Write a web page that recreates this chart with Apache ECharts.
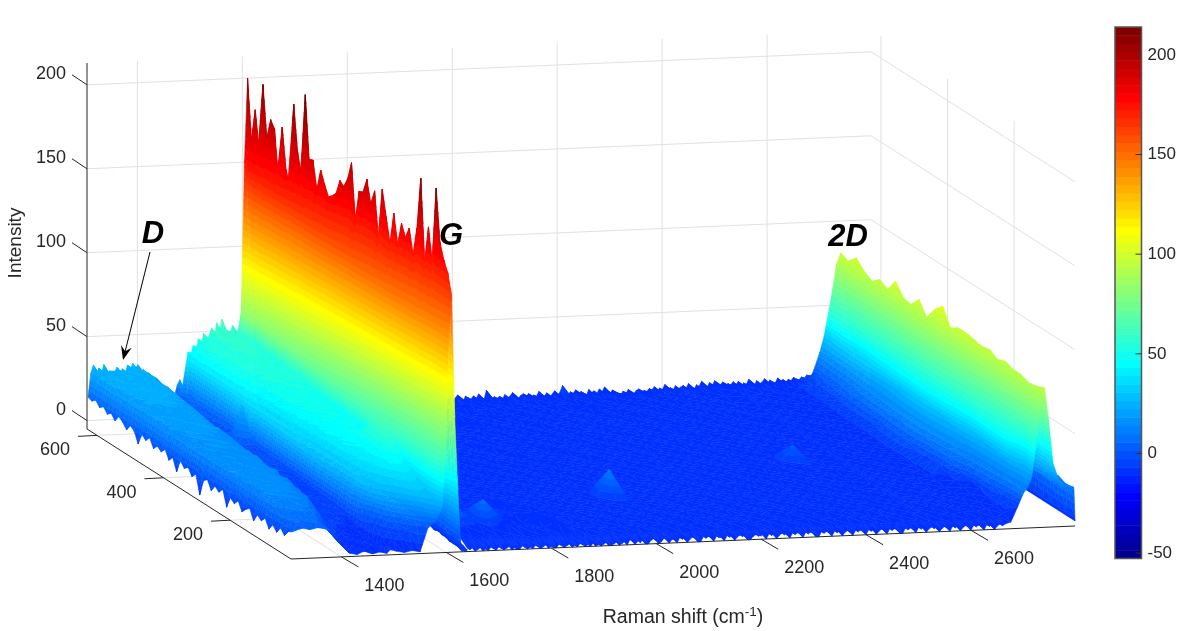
<!DOCTYPE html>
<html><head><meta charset="utf-8">
<style>html,body{margin:0;padding:0;background:#fff}#c{width:1186px;height:631px}</style>
<script src="https://cdn.jsdelivr.net/npm/echarts@6/dist/echarts.min.js"></script>
</head><body><div id="c"></div>
<script>
// ---------- axis ranges and tick labels ----------
const shiftRange = [1304, 2798];
const positionRange = [17, 630];
const intensityRange = [-5, 213];
const colorRange = [-52.7, 214];
const shiftTicks = [1400, 1600, 1800, 2000, 2200, 2400, 2600];
const positionTicks = [200, 400, 600];
const intensityTicks = [0, 50, 100, 150, 200];
const colorTicks = [-50, 0, 50, 100, 150, 200];

// ---------- spectra: near block (D and G bands), rows run from position 630 to 17 ----------
const nearShifts = [1306,1314,1326,1340,1355,1370,1385,1400,1415,1430,1445,1460,1475,1487,1493,1505,1520,1535,1550,1565,1580,1592,1598,1604,1610,1616,1622,1628,1634,1640];
const nearSpectra = [
[14,30,31,33,29,32,30,32,28,24,19,16,13,15,33,38,46,50,55,52,48,50,62,150,200,100,45,8,4,4],
[13,27,30,28,31,27,31,29,27,22,17,15,12,14,36,41,44,47,50,49,51,48,60,146,165,92,40,7,3,4],
[15,31,28,30,27,30,28,31,26,21,16,14,13,13,35,44,48,45,52,47,46,49,61,148,184,98,42,8,4,3],
[12,26,29,31,30,26,29,27,28,23,17,13,11,15,38,40,43,49,47,51,49,47,59,145,162,90,38,6,4,3],
[14,29,27,29,32,28,31,30,25,20,15,12,12,14,37,45,47,44,53,46,50,51,62,149,202,104,44,7,3,4],
[11,28,30,27,28,31,27,29,26,22,16,13,10,13,34,42,45,48,49,52,47,48,60,144,172,93,41,8,3,3],
[13,27,29,30,28,29,30,28,27,21,15,12,11,12,36,43,46,50,48,50,46,49,61,146,184,96,40,7,4,3],
[10,25,28,26,29,31,28,30,25,20,16,14,12,14,35,40,47,46,51,47,49,46,59,147,180,95,42,6,3,4],
[14,28,30,29,26,28,31,27,26,19,14,13,10,11,37,44,43,48,46,50,45,47,58,143,153,88,37,7,3,3],
[12,24,27,30,29,27,29,28,24,21,15,11,11,13,33,41,46,44,50,46,48,50,60,145,184,97,41,6,4,2],
[9,26,29,27,28,30,26,29,25,18,14,12,9,12,36,42,44,49,47,48,47,45,57,142,160,88,39,6,3,3],
[13,27,26,28,30,27,28,26,24,20,15,11,10,11,34,39,45,46,49,44,46,48,58,143,152,86,36,5,3,3],
[11,25,28,29,26,29,27,28,23,19,13,12,10,12,35,43,43,47,45,49,44,47,59,146,202,104,43,6,2,3],
[5,23,27,26,29,26,28,25,24,18,14,10,9,11,32,40,46,44,48,45,47,44,57,142,175,94,40,5,3,2],
[12,26,24,28,27,28,26,27,22,17,13,11,11,10,33,38,42,46,44,47,43,46,56,141,163,90,38,5,2,3],
[10,24,27,25,27,25,27,26,23,18,12,10,13,12,34,41,44,43,47,45,46,45,58,145,212,108,44,6,3,2],
[13,25,26,28,25,27,25,26,21,16,13,12,20,14,31,39,45,47,43,46,44,47,56,140,175,93,38,5,2,2],
[8,22,25,26,27,24,26,24,22,17,11,14,31,22,33,37,42,44,46,43,47,44,55,139,176,95,39,4,3,2],
[11,24,27,24,25,26,24,25,20,15,12,11,17,13,30,40,43,42,45,44,42,45,55,138,160,88,37,5,2,2],
[9,23,24,26,23,25,26,23,21,16,11,9,10,11,32,38,41,45,43,46,44,42,54,138,173,92,38,4,2,2],
[12,25,26,23,26,24,25,24,19,14,12,10,9,10,29,36,43,42,44,42,45,43,54,137,166,90,37,4,2,1],
[7,22,24,25,24,26,23,25,20,15,10,9,11,9,31,37,40,44,42,45,41,44,53,137,160,88,36,4,1,2],
[10,24,23,25,27,23,25,22,21,14,11,10,8,10,28,38,42,41,45,43,43,41,52,136,162,90,36,3,2,1],
[3,21,25,24,22,25,24,23,19,13,10,8,9,9,30,35,41,43,41,44,42,43,52,136,165,90,37,3,2,1],
[11,23,22,26,24,24,22,24,18,15,11,9,8,8,27,37,39,42,43,41,44,40,51,135,174,93,37,3,1,2],
[8,24,25,23,25,22,24,21,20,13,10,8,7,9,29,34,40,41,42,43,40,42,51,135,172,92,36,3,1,1],
[10,22,24,23,23,25,22,23,17,14,9,9,8,8,26,36,38,43,40,42,43,41,50,134,178,94,37,2,2,1],
[6,21,23,25,22,24,24,21,19,12,10,7,9,7,28,33,41,39,42,41,39,43,50,135,189,100,40,3,1,1],
[9,24,22,24,25,21,23,22,16,13,9,8,6,8,25,35,37,41,40,43,41,39,49,132,157,86,34,2,1,0],
[-2,20,25,22,23,24,21,23,18,12,8,9,7,7,27,32,39,40,42,39,41,40,49,133,175,93,36,2,1,1],
[8,22,23,24,21,23,24,20,17,13,9,7,8,7,24,34,36,42,39,41,38,42,48,132,176,94,36,2,0,1],
[10,21,24,22,24,22,22,23,15,11,10,8,6,6,26,31,38,39,41,40,42,38,48,132,185,97,38,2,1,0],
[5,23,21,25,22,23,21,22,17,12,8,7,7,7,23,33,37,40,38,42,40,41,47,131,172,92,35,1,1,1],
[9,20,23,23,24,21,23,20,16,10,9,8,5,6,25,30,39,38,41,39,41,39,47,131,181,96,37,2,0,0],
[7,22,22,21,23,24,20,21,14,11,7,6,7,5,22,32,35,41,39,40,38,42,46,130,155,84,33,1,0,1],
[10,21,24,23,21,22,23,19,16,10,8,7,5,6,24,29,37,37,42,38,41,40,46,130,185,97,37,1,1,0],
[1,19,22,24,22,21,21,22,15,9,7,6,6,5,21,31,36,39,38,44,40,38,46,130,170,91,35,1,0,0],
[8,21,23,21,24,23,20,20,13,10,8,5,4,5,23,28,38,36,41,47,39,41,46,129,156,85,33,1,0,0],
[6,20,21,23,21,22,22,19,15,9,6,6,5,4,20,30,34,38,37,50,43,39,45,129,175,93,36,0,1,0],
[9,22,22,22,23,20,21,21,12,8,7,4,4,5,22,27,36,35,40,54,45,40,45,129,158,86,33,0,0,0],
[4,19,24,20,21,23,19,20,14,9,5,5,3,4,19,29,33,37,38,58,48,38,45,129,172,92,35,0,0,-1],
[7,21,20,23,22,21,22,18,12,7,6,4,4,3,21,26,35,34,41,62,50,39,45,128,165,89,34,0,-1,0],
[9,20,22,21,20,22,20,19,13,8,5,3,2,3,18,28,32,36,40,66,46,37,44,128,172,92,35,-1,0,-1],
[3,18,21,22,23,19,21,17,11,6,4,4,3,2,20,25,33,33,38,55,42,36,44,128,158,85,33,0,-1,-1],
[8,20,23,20,21,22,18,18,10,7,5,2,1,2,17,26,30,35,37,42,39,34,44,128,175,92,35,-1,-1,0],
[6,19,20,22,19,20,20,16,9,5,3,3,2,1,18,23,29,31,38,40,36,33,44,129,206,106,40,-1,0,-1],
[9,18,19,21,22,18,19,14,8,4,2,1,1,0,14,21,26,30,33,37,35,31,44,127,158,85,33,-2,-1,-1],
[4,17,20,18,20,21,16,12,6,3,1,2,0,1,12,18,24,27,31,34,32,29,44,128,180,95,36,-1,-2,-1],
[8,16,17,20,18,17,15,9,4,2,0,-1,0,-1,9,15,20,24,27,31,30,27,45,128,160,86,33,-2,-2,-2],
[5,15,18,16,19,16,13,7,2,1,-1,0,-2,-1,7,12,17,21,24,28,28,26,45,130,206,105,40,-2,-2,-1],
[9,14,15,17,15,16,11,5,1,0,-2,-1,-1,-3,4,9,14,17,21,24,26,25,46,128,175,90,35,-3,-2,-3],
[6,13,15,14,16,14,10,4,-1,-2,-1,-3,-2,-3,1,6,10,13,17,20,24,24,47,127,166,85,34,-3,-3,-2],
[10,12,14,13,14,13,10,3,-2,-3,-3,-2,-4,-3,-1,2,5,8,12,16,22,23,47,126,160,80,33,-3,-4,-3],
[11,12,13,12,13,12,10,2,-3,-4,-2,-4,-3,-4,-2,-3,-4,-3,-4,10,14,22,48,125,148,75,32,-4,-6,-4]
];
// back edge of the near block read at 5 cm-1 steps from 1306
const nearBackEdgeStart = 1306;
const nearBackEdge = [14,28,33,26,31,27,33,26,29,25,28,31,26,30,27,32,29,33,30,32,27,29,26,27,24,24,22,20,19,16,17,14,15,13,19,22,18,28,38,36,42,38,46,41,49,43,47,52,45,55,48,57,46,50,47,53,48];

// ---------- spectra: far block (plateau and 2D band), rows run from position 630 to 17 ----------
const farShifts = [1640,1665,1690,1715,1740,1765,1790,1815,1840,1865,1890,1915,1940,1965,1990,2015,2040,2065,2090,2115,2140,2165,2190,2215,2240,2265,2290,2315,2340,2365,2390,2415,2440,2465,2490,2515,2540,2565,2590,2615,2640,2660,2676,2689,2700,2708,2716,2724,2732,2740,2748,2756,2766,2778,2796,2798];
const farSpectra = [
[3,4,2,4,3,5,3,4,2,3,4,3,5,3,4,3,4,5,3,4,4,3,5,4,3,5,4,4,6,4,5,4,5,6,5,8,6,5,6,5,7,8,9,12,22,31,44,58,74,81,60,34,22,18,17,-2],
[3,3,4,2,4,3,4,2,4,3,3,4,3,5,3,4,4,3,4,3,5,4,3,4,5,3,4,5,4,5,4,5,4,5,6,7,5,6,5,6,6,8,10,13,22,32,44,58,73,79,58,33,22,18,17,-2],
[2,4,3,3,2,4,3,3,3,4,3,2,4,3,5,3,3,4,3,4,3,4,4,3,4,4,3,4,5,4,5,4,5,4,5,8,5,5,6,5,7,9,11,14,24,33,45,59,74,84,62,34,22,19,17,-2],
[3,2,3,4,3,3,2,4,2,3,4,3,3,4,3,4,2,3,4,3,4,3,3,5,3,4,4,3,4,5,4,4,5,5,4,7,5,4,5,6,6,9,11,15,24,33,46,59,73,79,57,33,21,18,16,-2],
[2,3,2,3,2,3,4,2,3,2,3,3,4,2,3,3,4,3,3,4,3,3,4,3,4,3,5,4,3,4,4,5,4,4,5,7,4,5,5,5,6,9,12,16,25,34,46,59,72,76,55,32,22,18,17,-2],
[1,2,3,2,3,2,3,2,2,3,2,3,2,4,2,3,3,2,4,3,3,4,3,3,3,4,3,4,4,3,5,4,4,5,4,6,5,4,5,4,6,9,13,17,26,34,46,60,73,80,58,33,21,18,17,-2],
[2,1,2,3,2,2,3,2,3,2,3,2,2,3,3,2,3,3,2,3,4,3,3,4,3,3,4,3,4,4,3,4,4,3,5,6,4,4,4,5,6,10,14,19,27,35,47,60,72,77,56,32,21,18,16,-2],
[1,2,1,2,3,2,2,1,2,3,2,2,3,2,2,3,2,2,3,2,3,3,2,3,3,2,4,3,3,3,4,3,4,4,3,6,4,4,3,4,5,10,14,20,28,36,47,60,72,85,62,34,22,18,17,-2],
[2,1,2,1,2,2,1,3,2,1,2,3,2,2,3,2,2,3,2,3,2,3,3,2,3,3,3,2,4,3,3,4,3,3,4,5,4,3,4,4,5,10,15,21,28,36,47,60,72,78,57,33,21,18,16,-2],
[1,2,1,1,2,1,2,2,1,2,2,1,3,2,2,2,3,2,2,2,3,2,3,2,3,2,3,3,3,2,4,3,3,4,3,5,3,4,3,4,5,10,15,22,29,37,48,61,73,77,56,32,21,17,17,-2],
[2,3,1,2,1,2,1,2,2,1,2,2,1,3,2,2,1,3,2,2,2,3,2,3,2,3,3,2,3,3,3,3,4,3,3,5,3,3,4,3,5,10,16,23,30,38,49,62,74,83,60,33,22,18,16,-2],
[3,2,2,1,2,1,2,1,1,2,1,2,2,1,2,2,2,1,3,2,2,2,3,2,2,3,2,3,2,3,3,3,3,3,4,5,3,3,3,4,5,11,17,24,31,38,49,62,73,75,54,32,21,18,16,-2],
[2,4,2,2,1,2,2,1,2,1,2,1,2,2,1,2,2,2,1,3,2,2,2,2,3,2,3,2,3,2,3,3,2,4,3,4,3,4,3,3,4,11,17,25,32,39,50,62,74,83,60,34,22,17,16,-2],
[3,3,5,2,2,1,1,2,1,2,1,2,1,2,2,1,2,2,2,2,1,2,3,2,2,2,2,3,2,3,2,3,5,3,3,5,3,3,3,3,4,11,18,25,32,39,50,63,75,88,64,35,22,18,16,-2],
[2,5,3,3,2,2,1,1,2,1,2,1,2,1,1,2,2,1,2,2,2,1,2,2,2,2,3,2,2,2,3,2,12,3,2,5,2,3,3,3,4,11,18,25,32,39,50,62,74,78,57,33,21,18,16,-2],
[4,6,3,2,2,1,2,1,1,1,1,2,1,1,2,1,1,2,1,2,2,2,1,2,2,1,2,2,2,2,3,2,3,2,2,4,2,3,2,3,4,10,17,24,31,38,49,62,73,81,58,33,21,17,16,-2],
[5,8,4,3,2,1,1,2,1,1,2,1,1,2,1,2,1,1,2,1,1,2,1,2,1,2,2,1,2,2,2,3,2,2,3,4,2,2,3,2,3,10,16,23,30,37,48,61,73,81,58,33,21,18,16,-2],
[6,5,3,10,3,2,1,1,2,1,1,1,2,1,1,1,2,1,1,2,1,1,2,1,2,1,1,2,1,2,2,2,2,3,2,4,2,2,2,3,3,9,15,21,28,35,47,60,72,80,58,33,21,17,16,-2],
[7,6,9,4,3,2,2,1,1,2,1,1,1,1,2,4,1,1,2,1,1,1,1,2,1,1,2,1,2,1,2,2,2,2,2,4,2,2,2,2,3,9,14,19,26,33,45,59,71,79,57,33,21,18,15,-2],
[6,4,5,3,2,3,1,2,1,1,1,2,1,1,1,18,1,1,1,1,1,1,2,1,1,1,1,2,1,1,2,1,2,2,1,3,2,2,2,2,3,7,12,17,24,31,44,58,71,80,58,33,21,17,15,-2],
[8,5,7,4,3,2,6,1,2,1,1,1,1,2,1,1,1,1,1,0,1,1,1,1,1,2,1,1,1,1,1,2,1,1,2,3,1,2,2,1,2,6,10,15,22,29,42,57,71,77,55,32,20,17,15,-2],
[5,7,4,5,2,3,2,1,1,2,0,1,1,1,0,1,1,0,1,1,0,1,1,1,0,1,1,1,1,0,1,1,1,2,1,3,1,1,2,1,2,5,8,13,21,28,41,56,70,79,57,32,20,17,15,-2],
[6,4,6,3,9,2,3,1,2,1,1,0,1,0,1,1,0,1,0,1,1,0,1,0,1,0,1,0,1,1,0,1,1,1,1,2,1,1,1,1,2,4,7,12,20,27,40,56,71,77,55,32,20,17,16,-2],
[4,12,3,16,2,4,1,7,1,1,0,1,0,1,0,0,1,0,1,0,0,1,0,0,1,0,1,0,0,1,1,0,1,0,1,2,0,1,1,0,1,2,5,11,19,26,40,56,71,77,55,32,20,18,17,-2],
[3,4,5,2,6,3,2,1,5,1,0,0,-1,0,0,-1,0,0,-1,0,-1,0,0,-1,0,0,-1,0,0,-1,0,0,-1,0,0,1,0,0,-1,0,0,1,3,10,18,24,34,52,72,75,54,32,20,18,19,-2],
[1,0,2,0,1,-1,0,1,-1,0,-2,-1,-2,-1,-2,-1,-2,-2,-1,-2,-1,-2,-2,-1,-2,-2,-1,-2,-1,-2,-2,-1,-2,-2,-1,-1,-2,-2,-1,-2,-2,-1,1,9,17,21,30,50,72,76,56,33,22,18,17,-2],
[-4,-3,-4,-5,-3,-4,-6,-4,-3,-5,-4,-6,-4,-3,-5,-6,-4,-5,-6,-3,-5,-4,-6,-5,-3,-6,-4,-5,-4,-6,-5,-3,-6,-4,-5,-3,-6,-4,-5,-4,-3,-3,-1,8,16,19,26,45,70,78,58,33,24,19,18,-2]
];
// back and front edges of the far block read at 5 cm-1 steps
const farBackEdgeStart = 1990;
const farBackEdge = [3,5,2,4,6,3,2,5,4,3,5,3,6,4,2,8,5,3,4,3,4,2,5,3,4,6,3,2,4,5,3,5,2,4,3,6,4,3,5,2,4,6,3,5,9,4,3,5,4,6,3,5,4,2,6,4,5,3,6,4,7,4,3,5,2,3,1,4,2,5,3,2,4,5,2,4,3,5,4,6,3,5,4,7,4,5,3,6,4,5,6,4,7,5,3,6,5,8,5,4,7,5,8,6,5,7,4,6,5,7,5,7,4,6,5,8,6,4,7,5,6,8,5,7,6,5,8,6,7,5,7,6,8,7,6,8,7,9,8,9];
const farFrontEdgeStart = 1640;
const farFrontEdge = [-3,-4,-3,-5,-4,-3,-5,-4,-5,-3,-4,-5,-3,-4,-5,-4,-3,-5,-4,-5,-5,-3,-4,-5,-4,-5,-3,-4,-5,-4,-3,-5,-4,-5,-5,-3,-4,-5,-4,-3,-5,-4,-5,-3,-4,-5,-4,-5,-3,-5,-4,-5,-4,-3,-5,-5,-4,-3,-5,-4,-3,-5,-2,-3,-5,-3,-4,-2,-5,-5,-3,-2,-3,-5,-4,-2,-3,-5,-3,-3,-5,-2,-3,-2,-5,-3,-2,-3,-5,-5,-2,-3,-2,-3,-5,-2,-3,-3,-5,-2,-3,-2,-5,-3,-2,-3,-2,-5,-5,-3,-2,-3,-3,-2,-5,-2,-3,-2,-5,-3,-2,-3,-2,-5,-2,-3,-2,-3,-5,-2,-3,-2,-3,-5,-5,-2,-3,-2,-3,-5,-2,-3,-2,-5,-3,-2,-3,-5,-2,-3,-2,-3,-5,-2,-3,-2,-5,-3,-2,-3,-5,-2,-3,-2,-3,-5,-5,-2,-3,-2,-3,-5,-2,-3,-2,-5,-3,-2,-3,-2,-5,-3,-2,-3,-5,-2,-3,-2,-5,-3,-2,-3,-5,-2,-3,-2,-3,-5,-2,-3,-2,-5,-3,-2,-3,-2];

// colour tone of the sheet against its height
const dHeights = [-5,6,12,30,52,215];
const dTones = [-11,-5,3,25,45,215];
const shoulderHeights = [-5,6,12,25,45,215];
const shoulderTones = [-11,-5,3,28,52,215];
const ridgeFarHeights = [-5,8,12,37,85,156,215];
const ridgeFarTones = [-9,-7,3,49,119,181,215];
const ridgeFrontHeights = [-5,8,12,38,101,150,215];
const ridgeFrontTones = [-9,-7,3,49,119,165,215];
const plateauHeights = [-5,8,12,30,41,80,215];
const plateauTones = [-9,-7,3,27,49,97,215];

// ---------- 3-D view: how the axis box sits on the page ----------
const box = {ox:291, oy:559, xv:[784,-33], yv:[-204,-130], zh:366};
function project(X, Y, Z){
  const t=(X-shiftRange[0])/(shiftRange[1]-shiftRange[0]);
  const u=(Y-positionRange[0])/(positionRange[1]-positionRange[0]);
  const v=(Z-intensityRange[0])/(intensityRange[1]-intensityRange[0]);
  return [box.ox+box.xv[0]*t+box.yv[0]*u, box.oy+box.xv[1]*t+box.yv[1]*u-box.zh*v];
}

// ---------- colour map: 64 steps of jet ----------
const LEVELS=64;
function jet(i){
  const x=(i+1)/LEVELS, c=v=>Math.round(255*Math.max(0,Math.min(1,v)));
  return 'rgb('+c(Math.min(4*x-1.5,-4*x+4.5))+','+c(Math.min(4*x-0.5,-4*x+3.5))+','+c(Math.min(4*x+0.5,-4*x+2.5))+')';
}
const stepW=(colorRange[1]-colorRange[0])/LEVELS;
const levelOf=c=>Math.max(0,Math.min(LEVELS-1,Math.floor((c-colorRange[0])/stepW)));
function lerpTable(xs,ys,x){
  for(let i=0;i<xs.length-1;i++) if(x<=xs[i+1]||i===xs.length-2){const k=(x-xs[i])/(xs[i+1]-xs[i]);return ys[i]+(ys[i+1]-ys[i])*k;}
}
function tone(X,Y,z){
  if(X<1480) return lerpTable(dHeights,dTones,z);
  if(X<1595) return lerpTable(shoulderHeights,shoulderTones,z);
  if(X>1650) return lerpTable(plateauHeights,plateauTones,z);
  const u=(Y-positionRange[0])/(positionRange[1]-positionRange[0]);
  return u*lerpTable(ridgeFarHeights,ridgeFarTones,z)+(1-u)*lerpTable(ridgeFrontHeights,ridgeFrontTones,z);
}

// ---------- cut triangles of the surface into colour bands, far ones first ----------
function clipPoly(poly, idx, lim, above){
  const out=[];
  for(let i=0;i<poly.length;i++){
    const a=poly[i], b=poly[(i+1)%poly.length];
    const ia=above? a[idx]>=lim : a[idx]<=lim, ib=above? b[idx]>=lim : b[idx]<=lim;
    if(ia) out.push(a);
    if(ia!==ib){ const k=(lim-a[idx])/(b[idx]-a[idx]); out.push(a.map((v,n)=>v+(b[n]-v)*k)); }
  }
  return out;
}
const faces=[];
function addTriangle(tri0){
  let tri=clipPoly(tri0.map(p=>[p[0],p[1],p[2],tone(p[0],p[1],p[2])]),2,intensityRange[0],true);
  if(tri.length<3) return;
  const cs=tri.map(p=>p[3]), lo=Math.min(...cs), hi=Math.max(...cs);
  for(let l=levelOf(lo);l<=levelOf(hi);l++){
    let p=clipPoly(tri,3,colorRange[0]+l*stepW,true);
    if(p.length>2) p=clipPoly(p,3,colorRange[0]+(l+1)*stepW,false);
    if(p.length>2) faces.push({pts:p.map(q=>project(q[0],q[1],q[2])),color:jet(l)});
  }
}
function sampleAt(xs,zs,X){ return lerpTable(xs,zs,X); }
function mergeEdge(shifts,row,start,edge){
  const fx=edge.map((_,k)=>start+5*k), lo=fx[0], hi=fx[fx.length-1];
  const X=[],Z=[];
  shifts.forEach((s,i)=>{if(s<lo){X.push(s);Z.push(row[i]);}});
  fx.forEach((s,i)=>{X.push(s);Z.push(edge[i]);});
  shifts.forEach((s,i)=>{if(s>hi){X.push(s);Z.push(row[i]);}});
  return [X,Z];
}
function addSurface(shifts, rows, back, front){
  const n=rows.length, yAt=j=>positionRange[1]-(positionRange[1]-positionRange[0])*j/(n-1);
  for(let j=0;j<n-1;j++){
    let xs=shifts, zf=rows[j], zn=rows[j+1];
    if(j===0&&back){ const m=mergeEdge(shifts,rows[0],back[0],back[1]); xs=m[0]; zf=m[1]; zn=xs.map(X=>sampleAt(shifts,rows[1],X)); }
    if(j===n-2&&front){ const m=mergeEdge(shifts,rows[n-1],front[0],front[1]); xs=m[0]; zn=m[1]; zf=xs.map(X=>sampleAt(shifts,rows[n-2],X)); }
    for(let i=xs.length-2;i>=0;i--){
      const A=[xs[i+1],yAt(j),zf[i+1]], B=[xs[i],yAt(j),zf[i]],
            C=[xs[i+1],yAt(j+1),zn[i+1]], D=[xs[i],yAt(j+1),zn[i]];
      addTriangle([A,B,C]); addTriangle([D,B,C]);
    }
  }
}
addSurface(farShifts,farSpectra,[farBackEdgeStart,farBackEdge],[farFrontEdgeStart,farFrontEdge]);
addSurface(nearShifts,nearSpectra,[nearBackEdgeStart,nearBackEdge],null);

// ---------- box lines ----------
const [xa,xb]=shiftRange,[ya,yb]=positionRange,[za,zb]=intensityRange;
const gridLines=[];
shiftTicks.forEach(X=>{gridLines.push([project(X,ya,za),project(X,yb,za),project(X,yb,zb)]);});
positionTicks.forEach(Y=>{gridLines.push([project(xa,Y,za),project(xb,Y,za),project(xb,Y,zb)]);});
intensityTicks.forEach(Z=>{gridLines.push([project(xa,yb,Z),project(xb,yb,Z),project(xb,ya,Z)]);});
const axisLines=[
  [project(xa,yb,zb),project(xa,yb,za),project(xa,ya,za),project(xb,ya,za)]
];
const texts=[];
const tickFont='18px "Liberation Sans", Arial, sans-serif';
intensityTicks.forEach(Z=>{
  const p=project(xa,yb,Z); axisLines.push([p,[p[0]-15,p[1]-10]]);
  texts.push({t:String(Z),x:66,y:p[1]-11,align:'right',font:tickFont});
});
positionTicks.forEach(Y=>{
  const p=project(xa,Y,za); axisLines.push([p,[p[0]-19,p[1]+1]]);
  texts.push({t:String(Y),x:p[0]-27,y:p[1]+15,align:'right',font:tickFont});
});
shiftTicks.forEach(X=>{
  const p=project(X,ya,za); axisLines.push([p,[p[0]+17,p[1]+10]]);
  texts.push({t:String(X),x:p[0]+43,y:p[1]+29,align:'center',font:tickFont});
});
const noteFont='italic bold 31px "Liberation Sans", Arial, sans-serif';
const notes=[{t:'D',x:153,y:234},{t:'G',x:451,y:236},{t:'2D',x:848,y:237}];
notes.forEach(n=>texts.push({t:n.t,x:n.x,y:n.y,align:'center',font:noteFont,fill:'#000'}));
const arrowTail=[150,252], arrowTip=[123,360];

const pick=(api,pts)=>pts.map(p=>api.coord(p));
const chart=echarts.init(document.getElementById('c'),null,{renderer:'canvas',width:1186,height:631});
chart.setOption({
  backgroundColor:'#fff',
  animation:false,
  grid:[
    {left:0,top:0,width:1186,height:631,show:false},
    {left:1115,top:27,width:26.5,height:531.5,show:false}
  ],
  xAxis:[
    {type:'value',gridIndex:0,min:0,max:1186,show:false},
    {type:'value',gridIndex:1,min:0,max:1,show:false}
  ],
  yAxis:[
    {type:'value',gridIndex:0,min:0,max:631,inverse:true,show:false},
    {type:'value',gridIndex:1,min:colorRange[0],max:colorRange[1],position:'right',z:6,
     splitLine:{show:false},axisLine:{show:false},axisTick:{show:false},
     axisLabel:{show:true,customValues:colorTicks,margin:6,padding:[3,0,0,0],color:'#262626',fontSize:17,fontFamily:'"Liberation Sans", Arial, sans-serif'}}
  ],
  series:[
    {type:'custom',name:'grid',silent:true,z:1,clip:false,progressive:0,xAxisIndex:0,yAxisIndex:0,
     data:gridLines.map((_,i)=>[i,0]),
     renderItem:(params,api)=>({type:'polyline',shape:{points:pick(api,gridLines[params.dataIndex])},style:{fill:null,stroke:'#e1e1e1',lineWidth:1}})},
    {type:'custom',name:'surface',silent:true,z:2,clip:false,progressive:0,xAxisIndex:0,yAxisIndex:0,
     data:faces.map((_,i)=>[i,0]),
     renderItem:(params,api)=>{const f=faces[params.dataIndex];
       return {type:'polygon',shape:{points:pick(api,f.pts)},style:{fill:f.color,stroke:f.color,lineWidth:0.5}};}},
    {type:'custom',name:'axes',silent:true,z:3,clip:false,progressive:0,xAxisIndex:0,yAxisIndex:0,
     data:axisLines.map((_,i)=>[i,0]),
     renderItem:(params,api)=>({type:'polyline',shape:{points:pick(api,axisLines[params.dataIndex])},style:{fill:null,stroke:'#262626',lineWidth:1}})},
    {type:'custom',name:'labels',silent:true,z:4,clip:false,progressive:0,xAxisIndex:0,yAxisIndex:0,
     data:texts.map((_,i)=>[i,0]),
     renderItem:(params,api)=>{const d=texts[params.dataIndex],p=api.coord([d.x,d.y]);
       return {type:'text',style:{text:d.t,x:p[0],y:p[1],font:d.font,fill:d.fill||'#262626',textAlign:d.align,textVerticalAlign:'middle'}};}},
    {type:'custom',name:'titles',silent:true,z:4,clip:false,progressive:0,xAxisIndex:0,yAxisIndex:0,
     data:[[0,0],[1,0]],
     renderItem:(params,api)=>{
       if(params.dataIndex===0){const p=api.coord([683,618]);
         return {type:'text',style:{x:p[0],y:p[1],text:'{a|Raman shift (cm}{b|-1}{a|)}',textAlign:'center',textVerticalAlign:'middle',
           rich:{a:{fontSize:19.5,lineHeight:26,fontFamily:'"Liberation Sans", Arial, sans-serif',fill:'#262626',color:'#262626'},
                 b:{fontSize:13.5,lineHeight:16,verticalAlign:'top',fontFamily:'"Liberation Sans", Arial, sans-serif',fill:'#262626',color:'#262626'}}}};}
       const p=api.coord([16,243]);
       return {type:'text',x:p[0],y:p[1],rotation:Math.PI/2,style:{text:'Intensity',x:0,y:0,font:'19px "Liberation Sans", Arial, sans-serif',fill:'#262626',textAlign:'center',textVerticalAlign:'middle'}};
     }},
    {type:'custom',name:'arrow',silent:true,z:5,clip:false,progressive:0,xAxisIndex:0,yAxisIndex:0,
     data:[[0,0]],
     renderItem:(params,api)=>{
       const a=api.coord(arrowTail),b=api.coord(arrowTip),dx=b[0]-a[0],dy=b[1]-a[1],L=Math.hypot(dx,dy),ux=dx/L,uy=dy/L,nx=-uy,ny=ux;
       const pt=(s,w)=>[b[0]-ux*s+nx*w,b[1]-uy*s+ny*w];
       return {type:'group',children:[
         {type:'line',shape:{x1:a[0],y1:a[1],x2:b[0]-ux*8,y2:b[1]-uy*8},style:{stroke:'#000',lineWidth:1}},
         {type:'polygon',shape:{points:[b,pt(14,5.5),pt(9,0),pt(14,-5.5)]},style:{fill:'#000'}}
       ]};
     }},
    {type:'custom',name:'colorbar',silent:true,z:2,clip:false,progressive:0,xAxisIndex:1,yAxisIndex:1,
     data:Array.from({length:LEVELS+1+colorTicks.length},(_,i)=>[i,0]),
     renderItem:(params,api)=>{const i=params.dataIndex;
       if(i===LEVELS){const a=api.coord([0,colorRange[1]]),b=api.coord([1,colorRange[0]]);
         return {type:'rect',shape:{x:a[0],y:a[1],width:b[0]-a[0],height:b[1]-a[1]},style:{fill:null,stroke:'#555',lineWidth:1.5}};}
       if(i>LEVELS){const b=api.coord([1,colorTicks[i-LEVELS-1]]);
         return {type:'line',shape:{x1:b[0]-6,y1:b[1],x2:b[0],y2:b[1]},style:{stroke:'#333',lineWidth:1}};}
       const a=api.coord([0,colorRange[0]+(i+1)*stepW]),b=api.coord([1,colorRange[0]+i*stepW]);
       return {type:'rect',shape:{x:a[0],y:a[1],width:b[0]-a[0],height:b[1]-a[1]+0.5},style:{fill:jet(i)}};}}
  ]
});
</script></body></html>
